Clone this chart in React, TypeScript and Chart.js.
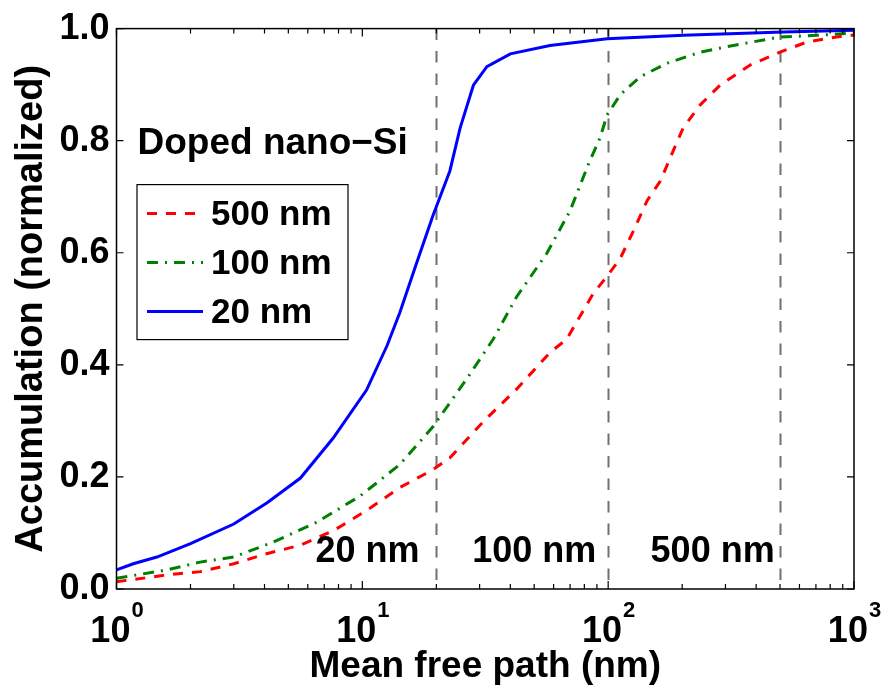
import React, { useEffect, useRef } from "react";
import { Chart, registerables } from "chart.js";

Chart.register(...registerables);

// ---- data ----
const seriesLabels = ["500 nm", "100 nm", "20 nm"];
const seriesColors = ["#ff0000", "#008000", "#0000ff"];

const redX = [1, 1.6, 2.19, 3.0, 4.08, 5.58, 7.62, 10.4, 14.2, 19.4, 22.7, 31.1, 42.5, 58, 67.9, 87.1, 99, 112, 127, 144, 163, 179, 202, 237, 285, 378, 500, 643, 935, 1000];
const redY = [0.013, 0.025, 0.031, 0.045, 0.063, 0.078, 0.104, 0.14, 0.181, 0.213, 0.234, 0.299, 0.357, 0.422, 0.446, 0.528, 0.558, 0.59, 0.64, 0.693, 0.728, 0.77, 0.823, 0.864, 0.899, 0.935, 0.958, 0.976, 0.988, 0.988];

const greenX = [1, 1.6, 2.19, 3.0, 4.35, 6.52, 9.8, 14.2, 19.4, 26.6, 34.1, 42.5, 56.3, 70, 83.1, 92.7, 99, 112, 135, 173, 237, 323, 500, 706, 1000];
const greenY = [0.019, 0.034, 0.048, 0.057, 0.084, 0.119, 0.166, 0.222, 0.29, 0.375, 0.446, 0.522, 0.599, 0.675, 0.758, 0.805, 0.846, 0.882, 0.914, 0.938, 0.958, 0.97, 0.985, 0.988, 0.992];

const blueX = [1, 1.17, 1.46, 2.0, 3.0, 4.1, 5.6, 7.6, 10.4, 12.6, 14.2, 16.6, 19.4, 22.7, 25, 28.3, 32.1, 40, 58, 99, 202, 516, 1000];
const blueY = [0.034, 0.045, 0.057, 0.081, 0.116, 0.154, 0.198, 0.269, 0.355, 0.434, 0.493, 0.581, 0.667, 0.746, 0.823, 0.899, 0.932, 0.955, 0.97, 0.982, 0.988, 0.994, 0.997];

const xMajorTicks = [1, 10, 100, 1000];
const xExponents = ["0", "1", "2", "3"];
const yTickValues = [0, 0.2, 0.4, 0.6, 0.8, 1.0];
const cutoffLines = [20, 100, 500];
const cutoffLabels = ["20 nm", "100 nm", "500 nm"];
const cutoffLabelX = [10.5, 50, 266];
const cutoffLabelY = 0.066;

const xTitle = "Mean free path (nm)";
const yTitle = "Accumulation (normalized)";
const panelTitle = "Doped nano\u2212Si";

const FONT = '"Liberation Sans", Arial, Helvetica, sans-serif';

function toPoints(xs: number[], ys: number[]) {
  return xs.map((x, i) => ({ x, y: ys[i] }));
}

const decorPlugin = {
  id: "matlabDecor",
  beforeDatasetsDraw(chart: any) {
    const { ctx, chartArea } = chart;
    const xs = chart.scales.x;
    ctx.save();
    ctx.strokeStyle = "#707070";
    ctx.lineWidth = 2;
    ctx.setLineDash([11.5, 11]);
    cutoffLines.forEach((v) => {
      const px = Math.round(xs.getPixelForValue(v)) + 0.5;
      ctx.beginPath();
      ctx.moveTo(px, chartArea.top);
      ctx.lineTo(px, chartArea.bottom);
      ctx.stroke();
    });
    ctx.restore();
  },
  afterDatasetsDraw(chart: any) {
    const { ctx, chartArea } = chart;
    const xs = chart.scales.x;
    const ys = chart.scales.y;
    const L = chartArea.left, R = chartArea.right, T = chartArea.top, B = chartArea.bottom;
    ctx.save();
    ctx.setLineDash([]);
    ctx.strokeStyle = "#000";
    ctx.lineWidth = 1.5;
    ctx.strokeRect(L, T, R - L, B - T);

    // y ticks (inward, both sides)
    ctx.lineWidth = 1.2;
    yTickValues.forEach((v) => {
      const py = ys.getPixelForValue(v);
      ctx.beginPath();
      ctx.moveTo(L, py); ctx.lineTo(L + 7, py);
      ctx.moveTo(R, py); ctx.lineTo(R - 7, py);
      ctx.stroke();
    });
    // x ticks major + minor (inward, top and bottom)
    for (let d = 0; d < xMajorTicks.length; d++) {
      const base = xMajorTicks[d];
      const px = xs.getPixelForValue(base);
      ctx.beginPath();
      ctx.moveTo(px, B); ctx.lineTo(px, B - 8);
      ctx.moveTo(px, T); ctx.lineTo(px, T + 8);
      ctx.stroke();
      if (d < xMajorTicks.length - 1) {
        for (let m = 2; m <= 9; m++) {
          const pm = xs.getPixelForValue(base * m);
          ctx.beginPath();
          ctx.moveTo(pm, B); ctx.lineTo(pm, B - 5);
          ctx.moveTo(pm, T); ctx.lineTo(pm, T + 5);
          ctx.stroke();
        }
      }
    }

    ctx.fillStyle = "#000";
    // x tick labels 10^n
    xMajorTicks.forEach((v, i) => {
      const px = xs.getPixelForValue(v);
      ctx.font = `bold 36px ${FONT}`;
      const wBase = ctx.measureText("10").width;
      ctx.font = `bold 22px ${FONT}`;
      const wExp = ctx.measureText(xExponents[i]).width;
      const total = wBase + wExp;
      const x0 = px - total / 2;
      const baseY = B + 53;
      ctx.textAlign = "left";
      ctx.textBaseline = "alphabetic";
      ctx.font = `bold 36px ${FONT}`;
      ctx.fillText("10", x0, baseY);
      ctx.font = `bold 22px ${FONT}`;
      ctx.fillText(xExponents[i], x0 + wBase + 1, baseY - 25);
    });

    // axis titles
    ctx.font = `bold 37px ${FONT}`;
    ctx.textAlign = "center";
    ctx.textBaseline = "alphabetic";
    ctx.fillText(xTitle, (L + R) / 2, 677);
    ctx.save();
    ctx.font = `bold 38px ${FONT}`;
    ctx.translate(42, (T + B) / 2);
    ctx.rotate(-Math.PI / 2);
    ctx.fillText(yTitle, 0, 0);
    ctx.restore();

    // cutoff labels
    ctx.font = `bold 36px ${FONT}`;
    ctx.textAlign = "center";
    ctx.textBaseline = "middle";
    cutoffLabels.forEach((t, i) => {
      ctx.fillText(t, xs.getPixelForValue(cutoffLabelX[i]), ys.getPixelForValue(cutoffLabelY));
    });

    // panel title
    ctx.font = `bold 37px ${FONT}`;
    ctx.textAlign = "left";
    ctx.textBaseline = "alphabetic";
    ctx.fillText(panelTitle, L + 21, T + 125);

    // legend
    const bx = L + 20.5, by = T + 156, bw = 211, bh = 155;
    ctx.fillStyle = "#fff";
    ctx.fillRect(bx, by, bw, bh);
    ctx.strokeStyle = "#000";
    ctx.lineWidth = 1.2;
    ctx.strokeRect(bx, by, bw, bh);
    const rowY = [by + 29, by + 78, by + 127];
    chart.data.datasets.forEach((ds: any, i: number) => {
      ctx.save();
      ctx.strokeStyle = ds.borderColor;
      ctx.lineWidth = 3;
      ctx.setLineDash(ds.borderDash || []);
      ctx.beginPath();
      ctx.moveTo(bx + 10, rowY[i]);
      ctx.lineTo(bx + 66, rowY[i]);
      ctx.stroke();
      ctx.restore();
      ctx.fillStyle = "#000";
      ctx.font = `bold 35px ${FONT}`;
      ctx.textAlign = "left";
      ctx.textBaseline = "middle";
      ctx.fillText(ds.label, bx + 74, rowY[i] + 2);
    });
    ctx.restore();
  },
};

export default function App() {
  const ref = useRef<HTMLCanvasElement | null>(null);
  useEffect(() => {
    document.body.style.margin = "0";
    const canvas = ref.current;
    if (!canvas) return;
    const chart = new Chart(canvas, {
      type: "line",
      data: {
        datasets: [
          {
            label: seriesLabels[0],
            data: toPoints(redX, redY),
            borderColor: seriesColors[0],
            borderWidth: 3,
            borderDash: [10, 9],
            pointRadius: 0,
            tension: 0,
            fill: false,
          },
          {
            label: seriesLabels[1],
            data: toPoints(greenX, greenY),
            borderColor: seriesColors[1],
            borderWidth: 3,
            borderDash: [11, 7, 2, 7],
            pointRadius: 0,
            tension: 0,
            fill: false,
          },
          {
            label: seriesLabels[2],
            data: toPoints(blueX, blueY),
            borderColor: seriesColors[2],
            borderWidth: 3,
            pointRadius: 0,
            tension: 0,
            fill: false,
          },
        ],
      },
      options: {
        animation: false,
        responsive: false,
        devicePixelRatio: 1,
        layout: { padding: { top: 23, right: 30, left: 0, bottom: 0 } },
        plugins: { legend: { display: false }, tooltip: { enabled: false } },
        scales: {
          x: {
            type: "logarithmic",
            min: 1,
            max: 1000,
            grid: { display: false },
            border: { display: false },
            ticks: { display: false },
            afterFit: (s: any) => { s.height = 98; },
          },
          y: {
            type: "linear",
            min: 0,
            max: 1,
            grid: { display: false, drawTicks: false },
            border: { display: false },
            ticks: {
              stepSize: 0.2,
              padding: 7,
              color: "#000",
              font: { family: FONT, size: 36, weight: "bold" },
              callback: (v: any) => Number(v).toFixed(1),
            },
            afterFit: (s: any) => { s.width = 116.5; },
          },
        },
      },
      plugins: [decorPlugin],
    } as any);
    return () => chart.destroy();
  }, []);
  return (
    <div style={{ width: 884, height: 687, background: "#fff" }}>
      <canvas ref={ref} width={884} height={687} style={{ width: 884, height: 687, display: "block" }} />
    </div>
  );
}
